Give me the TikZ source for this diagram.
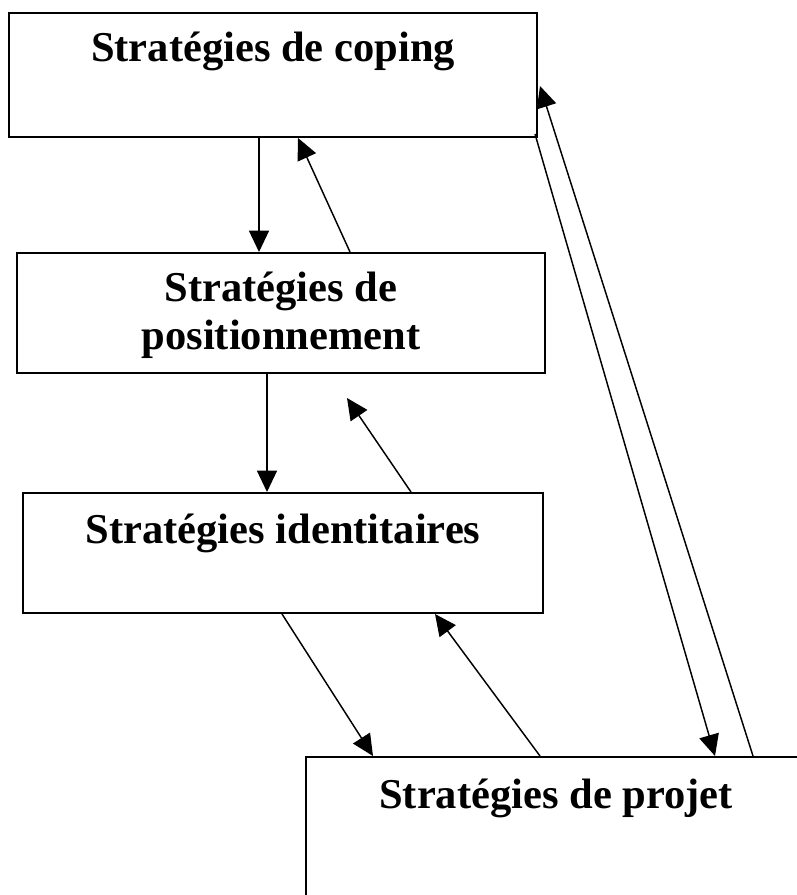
\documentclass[tikz,border=0pt]{standalone}
\usepackage{fontspec}
\setmainfont{Liberation Serif}
\usetikzlibrary{arrows.meta, positioning, calc}

\begin{document}
\begin{tikzpicture}[x=0.75pt, y=-0.75pt,
    box/.style={draw, rectangle, line width=1.5pt, inner sep=0pt},
    title/.style={font=\fontsize{31.9}{35.3}\selectfont\bfseries, inner sep=0pt, anchor=base, align=center},
    arr/.style={-{Triangle[length=16pt, width=15pt]}, line width=1.1pt}]
  \useasboundingbox (0,0) rectangle (796,895);
  \node (coping) [box, minimum width=396pt, minimum height=93pt] at (273,75) {};
  \node (posit) [box, minimum width=396pt, minimum height=90pt] at (281,313) {};
  \node (ident) [box, minimum width=390pt, minimum height=90pt] at (283,553) {};
  \node (projet) [box, minimum width=375pt, minimum height=120pt] at (556,837) {};
  \node (copingtext) [title] at ($(coping.north)+(0,50)$) {Stratégies de coping};
  \node (posittext) [title] at ($(posit.north)+(0,97)$) {Stratégies de\\positionnement};
  \node (identtext) [title] at ($(ident.north)+(0,51)$) {Stratégies identitaires};
  \node (projettext) [title] at ($(projet.north)+(0,52)$) {Stratégies de projet};
  \coordinate (identup) at (347,398);
  \draw[arr] ($(coping.south west)+(251,0)$) -- ($(posit.north west)+(243,0)$);
  \draw[arr] ($(posit.north west)+(334,0)$) -- ($(coping.south west)+(290,0)$);
  \draw[arr] ($(posit.south west)+(251,0)$) -- ($(ident.north west)+(245,0)$);
  \draw[arr] ($(ident.north west)+(389,0)$) -- (identup);
  \draw[arr] ($(ident.south west)+(260,0)$) -- ($(projet.north west)+(68,0)$);
  \draw[arr] ($(projet.north west)+(235,0)$) -- ($(ident.south west)+(413,0)$);
  \draw[arr] ($(coping.south east)+(-3,-4)$) -- ($(projet.north west)+(410,0)$);
  \draw[arr] ($(projet.north west)+(448,0)$) -- ($(coping.north east)+(2,74)$);
\end{tikzpicture}
\end{document}
